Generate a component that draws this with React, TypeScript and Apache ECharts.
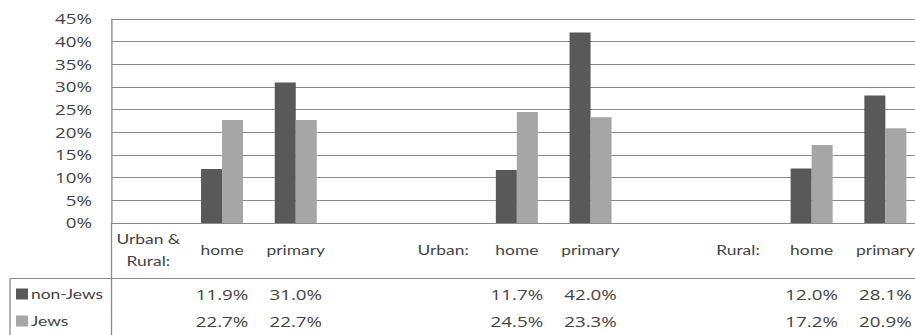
import React, { useEffect, useRef } from "react";
import * as echarts from "echarts";

// Groups and school levels on the category axis
const groupLabels = ["Urban &\nRural:", "Urban:", "Rural:"];
const levels = ["home", "primary"];

// Shares per group and level, in percent (home, primary for each group)
const nonJews = [11.9, 31.0, 11.7, 42.0, 12.0, 28.1];
const jews = [22.7, 22.7, 24.5, 23.3, 17.2, 20.9];

const seriesNames = ["non-Jews", "Jews"];
const seriesColors = ["#595959", "#a6a6a6"];

// Value axis ticks
const yTicks = [0, 5, 10, 15, 20, 25, 30, 35, 40, 45];

// Build the category list: group label, its levels, then a spacer column
const categories: string[] = [];
const slotIndex: number[] = [];
groupLabels.forEach((g, gi) => {
  if (gi > 0) categories.push("");
  categories.push(g);
  levels.forEach((lv) => {
    slotIndex.push(categories.length);
    categories.push(lv);
  });
});

const spread = (vals: number[]) => {
  const out: (number | null)[] = categories.map(() => null);
  vals.forEach((v, i) => {
    out[slotIndex[i]] = v;
  });
  return out;
};

const fmt = (v: number | null) => (v == null ? "" : v.toFixed(1) + "%");

// Horizontal stretch of the whole drawing
const SX = 1.34;
const INNER_W = 700;
const H = 335;

const FONT = "Lato, 'Open Sans', sans-serif";
const NUM_FONT = "'Open Sans', Lato, sans-serif";
const FS = 13;
const NUM_FS = 14;
const TEXT = "#444444";
const LINE = "#8c8c8c";

export default function App() {
  const ref = useRef<HTMLDivElement>(null);

  useEffect(() => {
    if (!ref.current) return;
    const chart = echarts.init(ref.current, undefined, { renderer: "svg" });

    const gridLeft = 111.5 / SX;
    const catW = 73.7 / SX;
    const gridTop = 19;
    const gridBottom = H - 223;
    const tableTop = 278.5;
    const tableLeft = 10 / SX;

    const rowsY = [294, 321];

    const legendGraphics: any[] = [];
    seriesNames.forEach((name, i) => {
      legendGraphics.push({
        type: "rect",
        shape: { x: 16 / SX, y: rowsY[i] - 5.5, width: 12 / SX, height: 11 },
        style: { fill: seriesColors[i] },
        silent: true,
      });
      legendGraphics.push({
        type: "text",
        x: 31 / SX,
        y: rowsY[i],
        style: {
          text: name,
          fill: TEXT,
          font: `${FS}px ${FONT}`,
          verticalAlign: "middle",
          align: "left",
        },
        silent: true,
      });
    });

    const valueAxis = (vals: number[], margin: number) => ({
      type: "category",
      gridIndex: 0,
      position: "bottom",
      data: spread(vals).map(fmt),
      axisLine: { show: false },
      axisTick: { show: false },
      axisLabel: {
        interval: 0,
        margin,
        verticalAlign: "middle",
        color: TEXT,
        fontFamily: NUM_FONT,
        fontSize: NUM_FS,
      },
    });

    chart.setOption({
      animation: false,
      backgroundColor: "#ffffff",
      grid: {
        left: gridLeft,
        right: INNER_W - gridLeft - catW * categories.length,
        top: gridTop,
        bottom: gridBottom,
        containLabel: false,
      },
      xAxis: [
        {
          type: "category",
          data: categories,
          axisLine: { show: true, lineStyle: { color: LINE, width: 1 } },
          axisTick: { show: false },
          axisLabel: {
            interval: 0,
            margin: 27,
            verticalAlign: "middle",
            lineHeight: 22,
            color: TEXT,
            fontFamily: FONT,
            fontSize: FS,
          },
        },
        valueAxis(nonJews, 72),
        valueAxis(jews, 99),
      ],
      yAxis: {
        type: "value",
        min: yTicks[0],
        max: yTicks[yTicks.length - 1],
        interval: yTicks[1] - yTicks[0],
        axisLine: { show: true, lineStyle: { color: LINE, width: 1 } },
        axisTick: { show: false },
        splitLine: { show: true, lineStyle: { color: LINE, width: 1 } },
        axisLabel: {
          margin: 19.5 / SX,
          formatter: (v: number) => `${v}%`,
          color: TEXT,
          fontFamily: NUM_FONT,
          fontSize: NUM_FS,
        },
      },
      series: seriesNames.map((name, i) => ({
        name,
        type: "bar",
        xAxisIndex: 0,
        data: spread(i === 0 ? nonJews : jews),
        itemStyle: { color: seriesColors[i] },
        barGap: "0%",
        barCategoryGap: "43%",
      })),
      graphic: [
        // y axis line continuing down through the data table
        {
          type: "line",
          shape: { x1: gridLeft, y1: H - gridBottom, x2: gridLeft, y2: H + 2 },
          style: { stroke: LINE, lineWidth: 1 },
          silent: true,
        },
        // table top border
        {
          type: "line",
          shape: { x1: tableLeft, y1: tableTop, x2: INNER_W, y2: tableTop },
          style: { stroke: LINE, lineWidth: 1 },
          silent: true,
        },
        // table left border
        {
          type: "line",
          shape: { x1: tableLeft, y1: tableTop, x2: tableLeft, y2: H + 2 },
          style: { stroke: LINE, lineWidth: 1 },
          silent: true,
        },
        ...legendGraphics,
      ],
    });

    return () => chart.dispose();
  }, []);

  return (
    <div
      style={{
        position: "fixed",
        left: 0,
        top: 0,
        width: 915,
        height: H,
        overflow: "hidden",
        background: "#ffffff",
      }}
    >
      <div
        ref={ref}
        style={{
          width: INNER_W,
          height: H,
          transform: `scaleX(${SX})`,
          transformOrigin: "0 0",
        }}
      />
    </div>
  );
}
